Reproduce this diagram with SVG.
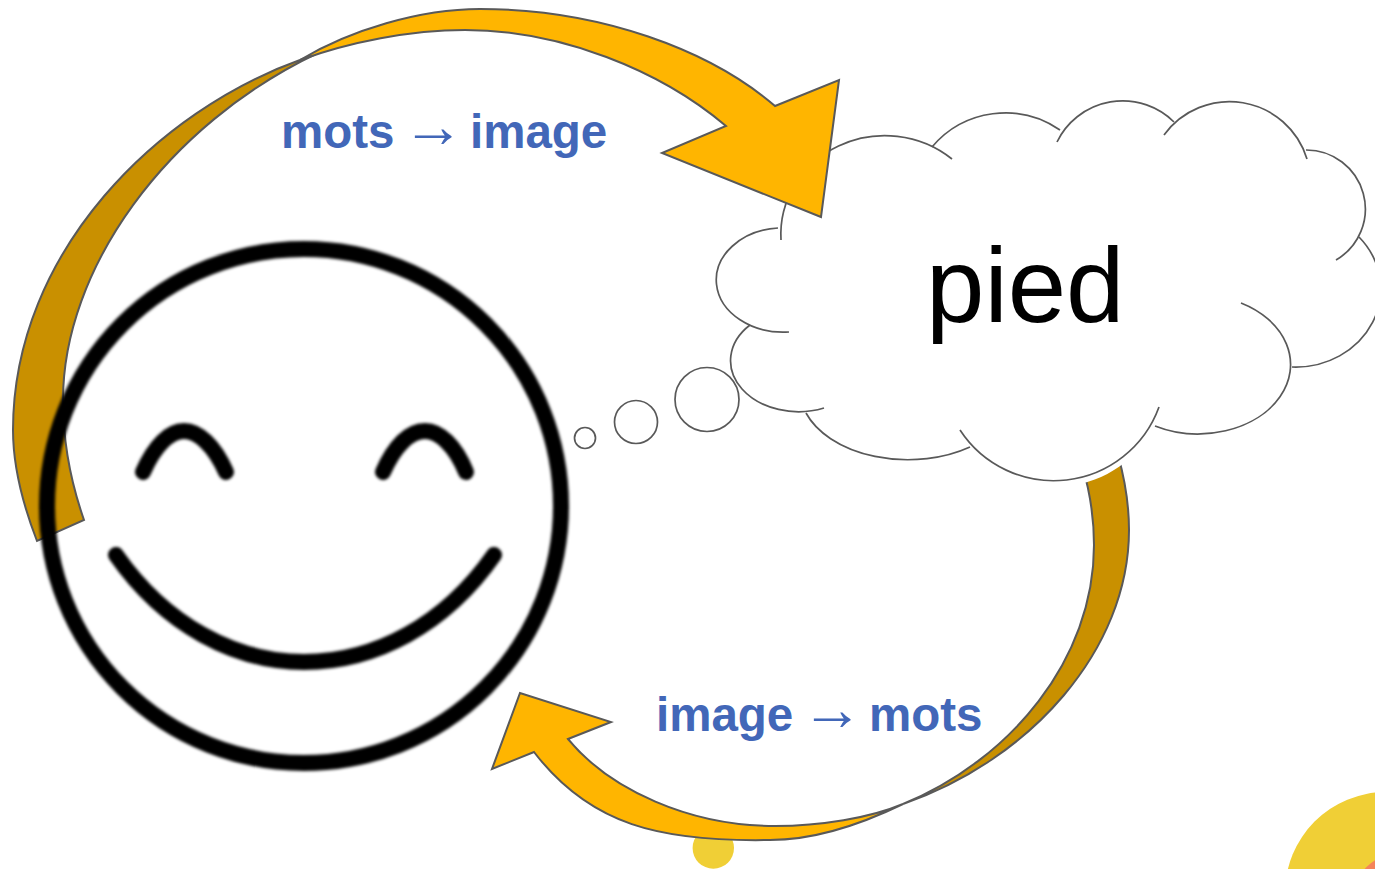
<svg xmlns="http://www.w3.org/2000/svg" width="1375" height="869" viewBox="0 0 1375 869">
<defs>
<style>
.arrow-front{fill:#FFB500;stroke:#595959;stroke-width:2;stroke-linejoin:miter}
.arrow-back{fill:#C99000;stroke:#595959;stroke-width:2;stroke-linejoin:miter}
.cloud-line{fill:none;stroke:#595959;stroke-width:1.7}
.bubble{fill:#fff;stroke:#595959;stroke-width:1.7}
.label{font-family:"Liberation Sans",Arial,sans-serif;font-weight:700;font-size:47.500px;fill:#4267B8}
.sym{font-family:"Liberation Serif","Times New Roman",serif;font-weight:400;font-size:62px}
.face{fill:none;stroke:#000;stroke-linecap:round;stroke-width:16}
</style>
<filter id="soft" filterUnits="userSpaceOnUse" x="0" y="200" width="620" height="620"><feGaussianBlur stdDeviation="1.800"/></filter>
</defs>
<rect width="1375" height="869" fill="#fff"/>
<g id="decor">
<circle cx="713.3" cy="848" r="20.7" fill="#F0CF36"/>
<circle cx="1386" cy="893" r="101" fill="#F0CF36"/>
<circle cx="1400" cy="900" r="47" fill="#F4845A"/>
</g>
<g id="connectors">
<g id="arrow-image-mots">
<path class="arrow-back" d="M903,804 C1030,760 1129,650 1129,530 C1129,505 1125,480 1118,455 L1082,465 C1091,495 1094,520 1094,545 C1094,660 1010,760 903,804 Z"/>
<path class="arrow-front" d="M903,804 C870,820 820,840 770,840 C660,842 590,825 534,752 L492,769 L520,693 L611,722 L568,739 C610,790 690,826 775,826 C820,826 870,818 903,804 Z"/>
</g>
</g>
<g id="node-cloud">
<path fill="#fff" d="M778,228 A67,52 0 0 0 750,325 A68,51 0 0 0 806,413 A108,70 0 0 0 970,447 A112,112 0 0 0 1155,426 A92,69 0 0 0 1292,367 A85,78 0 0 0 1359,237 A59,59 0 0 0 1306,150 A81,81 0 0 0 1174,122 A73,73 0 0 0 1060,130 A96,96 0 0 0 932,147 A104,99 0 0 0 778,228 Z"/>
<path class="cloud-line" d="M778,228 A67,52 0 1 0 789,332"/>
<path class="cloud-line" d="M750,325 A68,51 0 0 0 824,408"/>
<path class="cloud-line" d="M806,413 A108,70 0 0 0 970,447"/>
<path class="cloud-line" d="M960,430 A112,112 0 0 0 1159,407"/>
<path class="cloud-line" d="M1155,426 A92,69 0 0 0 1241,303"/>
<path class="cloud-line" d="M1292,367 A85,78 0 0 0 1359,237"/>
<path class="cloud-line" d="M1336,260 A59,59 0 0 0 1306,150"/>
<path class="cloud-line" d="M1307,159 A81,81 0 0 0 1164,135"/>
<path class="cloud-line" d="M1174,122 A73,73 0 0 0 1057,142"/>
<path class="cloud-line" d="M1060,130 A96,96 0 0 0 932,147"/>
<path class="cloud-line" d="M952,159 A104,99 0 0 0 781,240"/>
<circle class="bubble" cx="707" cy="399.500" r="32"/>
<circle class="bubble" cx="636" cy="422" r="21.500"/>
<circle class="bubble" cx="585" cy="438" r="10.500"/>
<text x="926" y="322" font-family="'Liberation Sans',Arial,sans-serif" font-size="105" fill="#000">pied</text>
</g>
<g id="arrow-mots-image">
<path class="arrow-back" d="M300,60 C160,110 13,250 13,430 C13,470 25,510 37,541 L84,520 C70,480 63,440 63,400 C63,270 165,125 320,52 Z"/>
<path class="arrow-front" d="M300,60 C350,30 420,9 480,9 C600,9 710,50 775,106 L839,80 L821,217 L662,153 L726,126 C660,70 560,30 465,30 C410,30 350,42 300,60 Z"/>
</g>
<g id="node-face" filter="url(#soft)">
<circle class="face" cx="304" cy="506" r="257" stroke-width="15"/>
<path class="face" d="M143,472 C155,445 170,431 184,431 C198,431 214,445 226,472"/>
<path class="face" d="M383,472 C395,445 410,431 425,431 C439,431 455,445 466,472"/>
<path class="face" d="M116,555 C165,625 235,662 304,662 C375,662 445,625 494,555"/>
</g>
<g id="labels">
<text class="label" y="148"><tspan x="281" y="148">mots</tspan><tspan class="sym" x="402" y="147">→</tspan><tspan x="470" y="148">image</tspan></text>
<text class="label" y="731"><tspan x="656" y="731">image</tspan><tspan class="sym" x="801" y="730">→</tspan><tspan x="869" y="731">mots</tspan></text>
</g>
</svg>
